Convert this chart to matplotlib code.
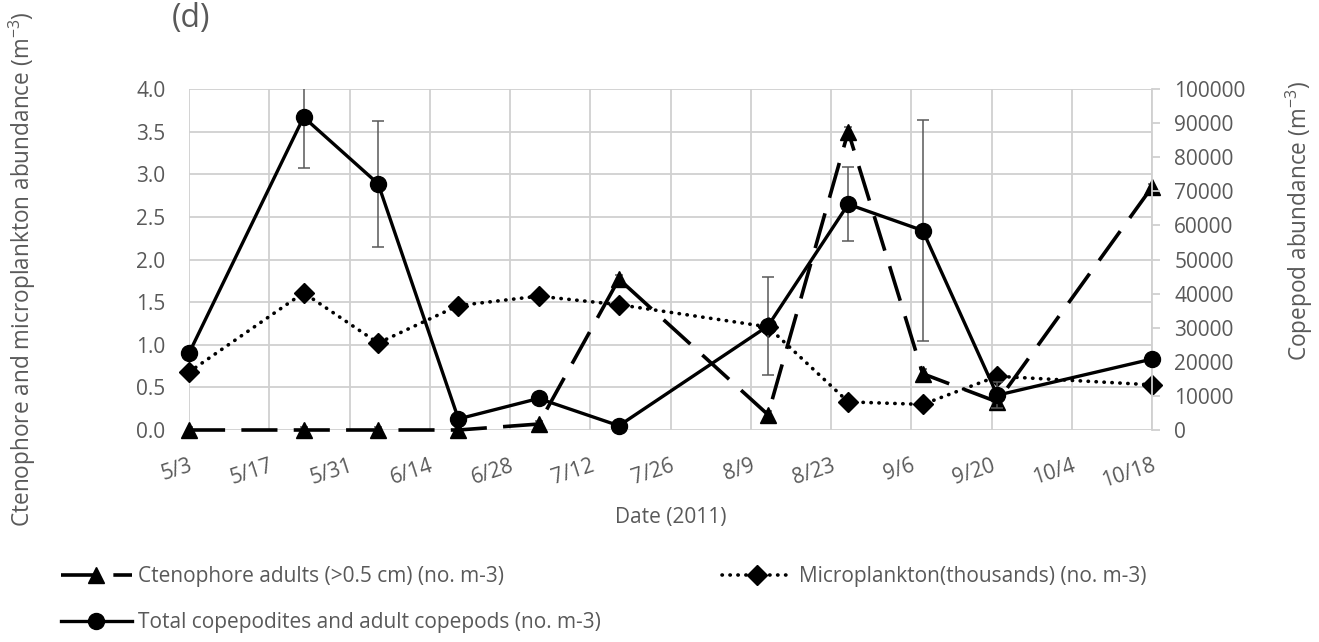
import matplotlib
matplotlib.use("Agg")
import matplotlib.pyplot as plt
import numpy as np
from datetime import datetime, timedelta

# ---------------- data ----------------
dates = ["2011-05-03", "2011-05-23", "2011-06-05", "2011-06-19", "2011-07-03",
         "2011-07-17", "2011-08-12", "2011-08-26", "2011-09-08", "2011-09-21",
         "2011-10-18"]
ctenophore = [0.0, 0.0, 0.0, 0.0, 0.07, 1.77, 0.18, 3.50, 0.66, 0.33, 2.85]
ctenophore_err = [0.03, 0.03, 0.03, 0.03, 0.04, 0.05, 0.04, 0.05, 0.05, 0.04, 0.04]
microplankton = [0.68, 1.61, 1.02, 1.46, 1.57, 1.47, 1.21, 0.33, 0.30, 0.63, 0.53]
copepods = [22500, 91750, 72200, 3250, 9250, 1250, 30500, 66200, 58500, 10200, 20800]
copepods_err = [0, 14800, 18500, 0, 0, 0, 14300, 10800, 32500, 3800, 0]

xtick_labels = ["5/3", "5/17", "5/31", "6/14", "6/28", "7/12", "7/26",
                "8/9", "8/23", "9/6", "9/20", "10/4", "10/18"]
left_ticks = [0.0, 0.5, 1.0, 1.5, 2.0, 2.5, 3.0, 3.5, 4.0]
right_ticks = [0, 10000, 20000, 30000, 40000, 50000, 60000, 70000, 80000, 90000, 100000]

# ---------------- style ----------------
FONT = "Open Sans"
plt.rcParams["font.family"] = [FONT, "DejaVu Sans"]
plt.rcParams["mathtext.fontset"] = "custom"
plt.rcParams["mathtext.rm"] = FONT
plt.rcParams["mathtext.it"] = FONT
plt.rcParams["mathtext.bf"] = FONT
plt.rcParams["mathtext.default"] = "regular"
TXT = "#595959"
GRID = "#d0d0d0"

x = [datetime.strptime(d, "%Y-%m-%d") for d in dates]
x0 = datetime(2011, 5, 3)
tick_dates = [x0 + timedelta(days=14 * i) for i in range(len(xtick_labels))]

fig = plt.figure(figsize=(13.19, 6.42), dpi=100)
W, H = 1319, 642
ax = fig.add_axes([189 / W, 1 - 430 / H, (1152 - 189) / W, (430 - 89) / H])
ax2 = ax.twinx()

# ctenophore (dashed, triangles)
l1 = ax.errorbar(x, ctenophore, yerr=ctenophore_err, color="black", lw=2.6,
                 marker="^", markersize=12, ecolor=TXT, elinewidth=1.1,
                 capsize=3, capthick=1.1, zorder=3,
                 label="Ctenophore adults (>0.5 cm) (no. m-3)")
l1[0].set_dashes([10, 4.5])
l1[0].set_dash_capstyle("butt")
l1[0].set_clip_on(False)

# microplankton (dotted, diamonds)
l2, = ax.plot(x, microplankton, color="black", lw=2.6, linestyle=(0, (0.1, 2.1)),
              dash_capstyle="round", marker="D", markersize=10, zorder=3,
              clip_on=False, label="Microplankton(thousands) (no. m-3)")

# copepods (solid, circles) on right axis
l3 = ax2.errorbar(x, copepods, yerr=copepods_err, color="black", lw=2.4,
                  marker="o", markersize=11.5, ecolor=TXT, elinewidth=1.1,
                  capsize=4, capthick=1.1, zorder=3,
                  label="Total copepodites and adult copepods (no. m-3)")
l3[0].set_clip_on(False)

# axes ranges
ax.set_xlim(tick_dates[0], tick_dates[-1])
ax.set_ylim(0, 4.0)
ax2.set_ylim(0, 100000)
ax.set_xticks(tick_dates)
ax.set_xticklabels(xtick_labels, rotation=18, ha="right", va="top",
                   rotation_mode="anchor")
ax.set_yticks(left_ticks)
ax.set_yticklabels([f"{v:.1f}" for v in left_ticks])
ax2.set_yticks(right_ticks)
ax2.set_yticklabels([str(v) for v in right_ticks])

ax.grid(True, color=GRID, lw=1.3)
ax.set_axisbelow(True)
for sp in ["top", "right", "left", "bottom"]:
    ax.spines[sp].set_visible(False)
for sp in ["top", "left", "bottom"]:
    ax2.spines[sp].set_visible(False)
ax2.spines["right"].set_color(GRID)
ax2.spines["right"].set_linewidth(1.3)

ax.tick_params(axis="both", length=0, labelsize=15, labelcolor=TXT)
ax.tick_params(axis="y", pad=17)
ax.tick_params(axis="x", pad=18)
ax2.tick_params(axis="y", length=6, width=1.3, color=GRID, labelsize=15,
                labelcolor=TXT, pad=10)

ax.set_xlabel("Date (2011)", fontsize=15, color=TXT, labelpad=11)
fig.text(22 / W, 1 - 269 / H, "Ctenophore and microplankton abundance (m$^{-3}$)",
         rotation=90, ha="center", va="center", fontsize=16.3, color=TXT)
fig.text(1299 / W, 1 - 221 / H, "Copepod abundance (m$^{-3}$)",
         rotation=90, ha="center", va="center", fontsize=16.3, color=TXT)
fig.text(172 / W, 1 - 18 / H, "(d)", ha="left", va="center", fontsize=23, color=TXT)

# legend
handles = [l1[0], l3[0], l2]
labels = ["Ctenophore adults (>0.5 cm) (no. m-3)",
          "Total copepodites and adult copepods (no. m-3)",
          "Microplankton(thousands) (no. m-3)"]
leg = fig.legend(handles, labels, loc="upper left",
                 bbox_to_anchor=(61 / W, 1 - 566 / H), ncol=2, frameon=False,
                 fontsize=15, handlelength=3.4, handletextpad=0.3,
                 columnspacing=5.8, labelspacing=1.2, borderpad=0,
                 borderaxespad=0)
for t in leg.get_texts():
    t.set_color(TXT)

fig.savefig("out.png", dpi=100)
